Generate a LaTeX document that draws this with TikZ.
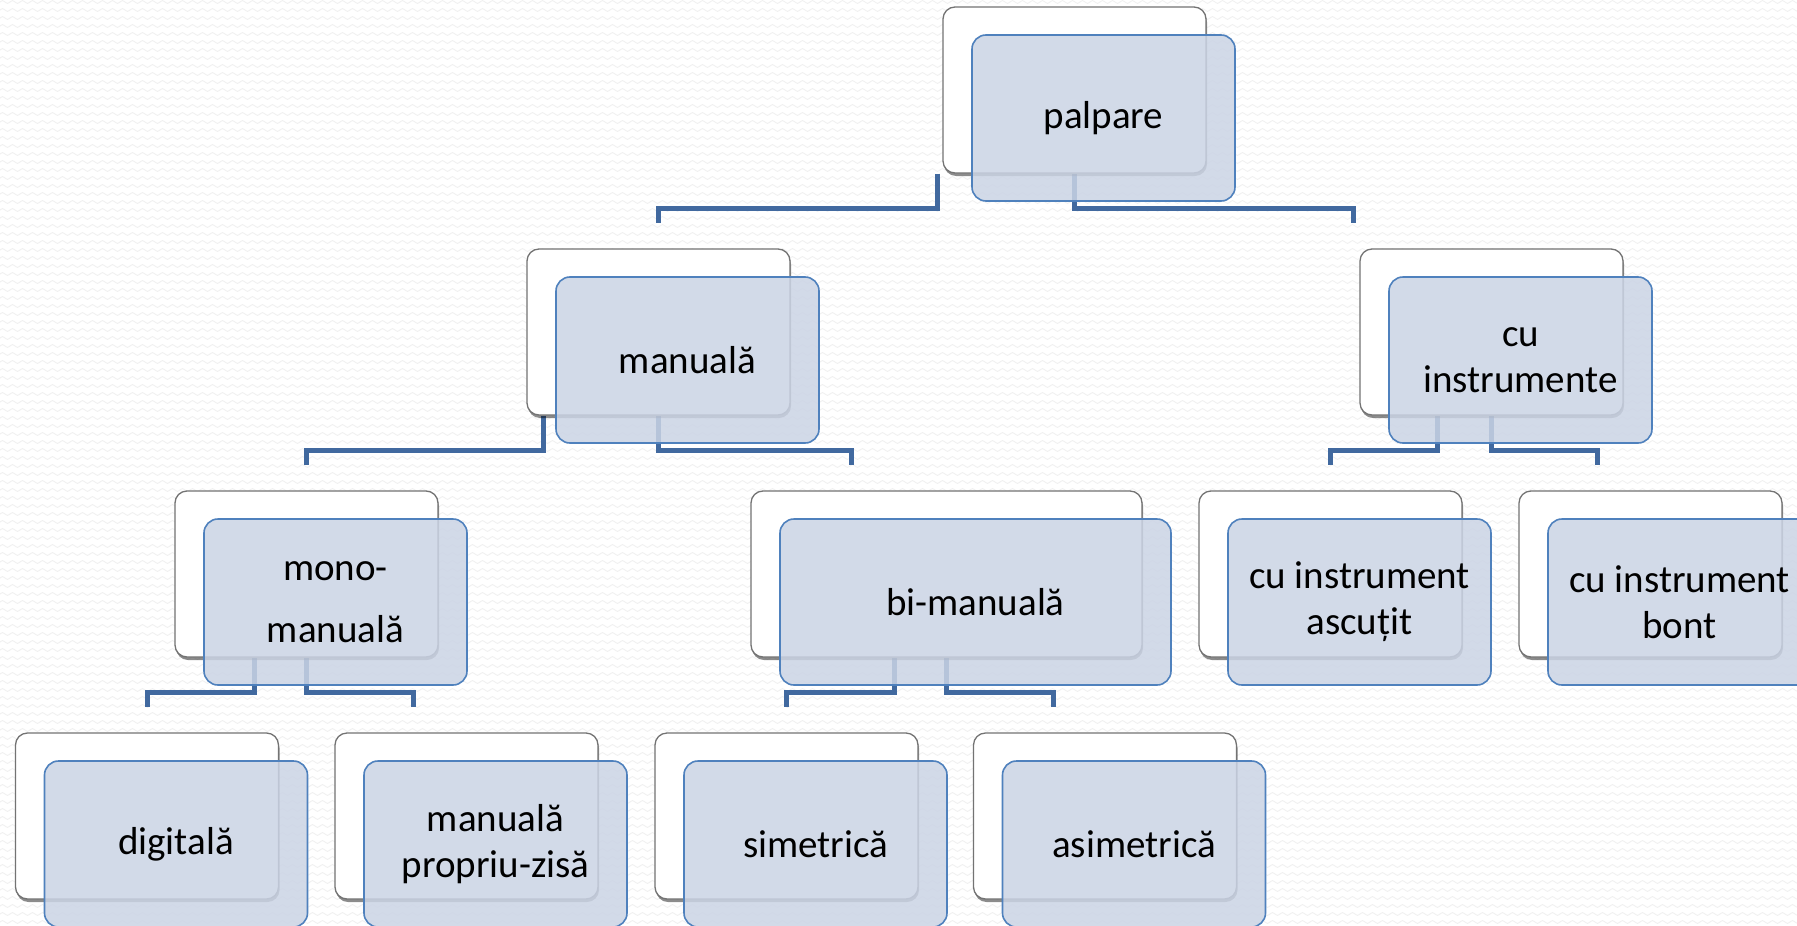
\documentclass[tikz,border=0pt]{standalone}
\usepackage{fontspec}
\setmainfont{Carlito}
\usetikzlibrary{shadows,calc,patterns}
\definecolor{conncol}{HTML}{41699F}
\definecolor{bluefill}{HTML}{CBD4E5}
\definecolor{bluedraw}{HTML}{4F81BD}
\pgfdeclarelayer{bg}
\pgfsetlayers{bg,main}
\pgfdeclarepatternformonly{waves}{\pgfqpoint{-1pt}{-1pt}}{\pgfqpoint{11pt}{9pt}}{\pgfqpoint{10pt}{8pt}}{%
  \pgfsetlinewidth{0.8pt}%
  \pgfpathmoveto{\pgfqpoint{0pt}{4pt}}%
  \pgfpathsine{\pgfqpoint{2.5pt}{1.5pt}}%
  \pgfpathcosine{\pgfqpoint{2.5pt}{-1.5pt}}%
  \pgfpathsine{\pgfqpoint{2.5pt}{-1.5pt}}%
  \pgfpathcosine{\pgfqpoint{2.5pt}{1.5pt}}%
  \pgfusepath{stroke}%
}
\tikzset{
  wbox/.style={draw=black!55, line width=1.3pt, fill=white, rounded corners=12pt,
    minimum width=263pt, minimum height=166pt, inner sep=0pt,
    drop shadow={shadow xshift=1pt, shadow yshift=-3pt, opacity=0.45, fill=black}},
  bbox/.style={draw=bluedraw, line width=1.6pt, fill=bluefill, fill opacity=0.85,
    text opacity=1, rounded corners=14pt, minimum width=263pt, minimum height=166pt,
    inner sep=0pt, align=center, font=\fontsize{39}{46}\selectfont},
  conn/.style={draw=conncol, line width=5pt, line join=miter},
}
\begin{document}
\begin{tikzpicture}[x=1pt, y=-1pt]
\useasboundingbox (0,0) rectangle (1797,926);
\begin{pgfonlayer}{bg}
  \fill[white] (0,0) rectangle (1797,926);
  \fill[pattern=waves, pattern color=black!6] (0,0) rectangle (1797,926);
\end{pgfonlayer}
\clip (0,0) rectangle (1797,926);
% level 0
\node[wbox] (palw) at (1074.5,90) {};
\node[bbox] (palb) at ([shift={(29,28)}]palw.center) {palpare};
% level 1
\node[wbox] (manw) at (658.5,332) {};
\node[bbox] (manb) at ([shift={(29,28)}]manw.center) {manuală};
\node[wbox] (instw) at (1491.5,332) {};
\node[bbox] (instb) at ([shift={(29,28)}]instw.center) {cu\\instrumente};
% level 2
\node[wbox] (monow) at (306.5,574) {};
\node[bbox] (monob) at ([shift={(29,28)}]monow.center) {mono-\\[16pt]manuală};
\node[wbox, minimum width=391pt] (biw) at (946.5,574) {};
\node[bbox, minimum width=391pt] (bib) at ([shift={(29,28)}]biw.center) {bi-manuală};
\node[wbox] (ascw) at (1330.5,574) {};
\node[bbox] (ascb) at ([shift={(29,28)}]ascw.center) {cu instrument\\ascuțit};
\node[wbox] (bontw) at (1650.5,574) {};
\node[bbox] (bontb) at ([shift={(29,28)}]bontw.center) {cu instrument\\bont};
% level 3
\node[wbox] (digw) at (147,816) {};
\node[bbox] (digb) at ([shift={(29,28)}]digw.center) {digitală};
\node[wbox] (propw) at (466.5,816) {};
\node[bbox] (propb) at ([shift={(29,28)}]propw.center) {manuală\\propriu-zisă};
\node[wbox] (simw) at (786.5,816) {};
\node[bbox] (simb) at ([shift={(29,28)}]simw.center) {simetrică};
\node[wbox] (asimw) at (1105,816) {};
\node[bbox] (asimb) at ([shift={(29,28)}]asimw.center) {asimetrică};
% connectors
\begin{pgfonlayer}{bg}
  \draw[conn] ([xshift=-137.5pt]palw.south) |- ([yshift=40pt]manw.north) -- ([yshift=25pt]manw.north);
  \draw[conn] (palw.south) |- ([xshift=-138.5pt,yshift=40pt]instw.north) -- ([xshift=-138.5pt,yshift=25pt]instw.north);
  \draw[conn] ([xshift=-115.5pt]manw.south) |- ([yshift=40pt]monow.north) -- ([yshift=25pt]monow.north);
  \draw[conn] (manw.south) |- ([xshift=-95.5pt,yshift=40pt]biw.north) -- ([xshift=-95.5pt,yshift=25pt]biw.north);
  \draw[conn] ([xshift=-54.5pt]instw.south) |- ([yshift=40pt]ascw.north) -- ([yshift=25pt]ascw.north);
  \draw[conn] (instw.south) |- ([xshift=-53.5pt,yshift=40pt]bontw.north) -- ([xshift=-53.5pt,yshift=25pt]bontw.north);
  \draw[conn] ([xshift=-52.5pt]monow.south) |- ([yshift=40pt]digw.north) -- ([yshift=25pt]digw.north);
  \draw[conn] (monow.south) |- ([xshift=-53.5pt,yshift=40pt]propw.north) -- ([xshift=-53.5pt,yshift=25pt]propw.north);
  \draw[conn] ([xshift=-52.5pt]biw.south) |- ([yshift=40pt]simw.north) -- ([yshift=25pt]simw.north);
  \draw[conn] (biw.south) |- ([xshift=-52pt,yshift=40pt]asimw.north) -- ([xshift=-52pt,yshift=25pt]asimw.north);
\end{pgfonlayer}
\end{tikzpicture}
\end{document}
